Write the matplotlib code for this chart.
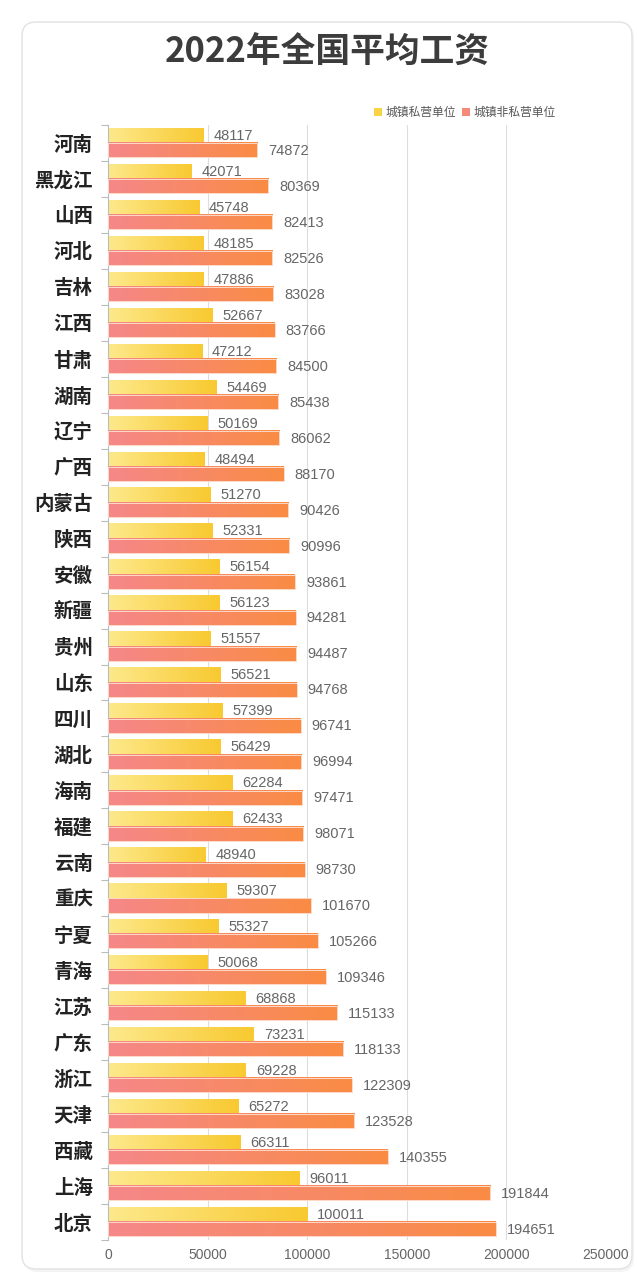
import numpy as np
import matplotlib
matplotlib.use("Agg")
import matplotlib.pyplot as plt
from matplotlib.colors import LinearSegmentedColormap
from matplotlib.patches import FancyBboxPatch, Patch

plt.rcParams['font.family'] = ['Noto Sans CJK SC', 'DejaVu Sans']

provinces = ['河南', '黑龙江', '山西', '河北', '吉林', '江西', '甘肃', '湖南', '辽宁', '广西',
             '内蒙古', '陕西', '安徽', '新疆', '贵州', '山东', '四川', '湖北', '海南', '福建',
             '云南', '重庆', '宁夏', '青海', '江苏', '广东', '浙江', '天津', '西藏', '上海', '北京']
private = [48117, 42071, 45748, 48185, 47886, 52667, 47212, 54469, 50169, 48494,
           51270, 52331, 56154, 56123, 51557, 56521, 57399, 56429, 62284, 62433,
           48940, 59307, 55327, 50068, 68868, 73231, 69228, 65272, 66311, 96011, 100011]
non_private = [74872, 80369, 82413, 82526, 83028, 83766, 84500, 85438, 86062, 88170,
               90426, 90996, 93861, 94281, 94487, 94768, 96741, 96994, 97471, 98071,
               98730, 101670, 105266, 109346, 115133, 118133, 122309, 123528, 140355, 191844, 194651]
series_names = ['城镇私营单位', '城镇非私营单位']
x_ticks = [0, 50000, 100000, 150000, 200000, 250000]

YELLOW = ('#fde98c', '#f8c930')
ORANGE = ('#f5878a', '#fa8c44')
NUM_FONT = ['Liberation Sans', 'DejaVu Sans']

W, H = 637, 1280
fig = plt.figure(figsize=(W / 100, H / 100), dpi=100)

# card background
bg = fig.add_axes([0, 0, 1, 1])
bg.set_xlim(0, W)
bg.set_ylim(H, 0)
bg.axis('off')
bg.add_patch(FancyBboxPatch((24, 24), 610, 1248, boxstyle="round,pad=0,rounding_size=14",
                            facecolor='#ededed', edgecolor='none', alpha=0.6))
bg.add_patch(FancyBboxPatch((22, 22), 610, 1247, boxstyle="round,pad=0,rounding_size=14",
                            facecolor='white', edgecolor='#e2e2e2', linewidth=1))

fig.text(0.514, 1 - 52 / H, '2022年全国平均工资', ha='center', va='center',
         fontsize=25, fontweight='bold', color='#3c3c3c')

ax = fig.add_axes([108 / W, 1 - 1240 / H, 498 / W, 1115 / H])
ax.patch.set_alpha(0)

n = len(provinces)
y = np.arange(n)
h = 0.39
off = 0.2


def gradient_fill(ax, bars, colors):
    cmap = LinearSegmentedColormap.from_list('g', list(colors))
    g = np.linspace(0, 1, 256).reshape(1, -1)
    for b in bars:
        x0, w = b.get_x(), b.get_width()
        y0, bh = b.get_y(), b.get_height()
        ax.imshow(g, cmap=cmap, extent=[x0, x0 + w, y0 + bh, y0], aspect='auto',
                  interpolation='bilinear', zorder=2)


bars_p = ax.barh(y - off, private, height=h, facecolor='none', edgecolor='none', zorder=3)
bars_n = ax.barh(y + off, non_private, height=h, facecolor='none', edgecolor='#fcd9c6',
                 linewidth=0.7, zorder=3)
gradient_fill(ax, bars_p, YELLOW)
gradient_fill(ax, bars_n, ORANGE)

for yy, v in zip(y, private):
    ax.text(v + 5000, yy - off, str(v), va='center', ha='left',
            fontsize=10.5, color='#666666', family=NUM_FONT)
for yy, v in zip(y, non_private):
    ax.text(v + 5500, yy + off + 0.02, str(v), va='center', ha='left',
            fontsize=10.5, color='#666666', family=NUM_FONT)

ax.set_xlim(0, 250000)
ax.set_ylim(n - 0.5, -0.5)
ax.set_xticks(x_ticks, [str(t) for t in x_ticks])
ax.set_yticks(y, provinces)
ax.set_yticks(np.arange(-0.5, n, 1), minor=True)
ax.tick_params(axis='y', which='major', length=0, pad=11, labelsize=14, labelcolor='#222222')
ax.tick_params(axis='y', which='minor', length=5, color='#bbbbbb', width=0.8)
ax.tick_params(axis='x', length=0, pad=6, labelsize=10, labelcolor='#666666')
for lab in ax.get_yticklabels():
    lab.set_fontweight('bold')
for lab in ax.get_xticklabels():
    lab.set_family(NUM_FONT)

for s in ['top', 'right', 'bottom']:
    ax.spines[s].set_visible(False)
ax.spines['left'].set_color('#bbbbbb')
ax.spines['left'].set_linewidth(0.8)
ax.grid(axis='x', color='#dddddd', linewidth=0.8, zorder=0)
ax.set_axisbelow(True)

handles = [Patch(facecolor='#f9d345'), Patch(facecolor='#f5897a')]
ax.legend(handles, series_names, loc='center', bbox_to_anchor=(0.717, 1.011), ncol=2,
          frameon=False, fontsize=8.5, handlelength=0.7, handleheight=0.7,
          handletextpad=0.3, columnspacing=0.5, labelcolor='#555555')

fig.savefig('out.png', dpi=100, facecolor='white')
